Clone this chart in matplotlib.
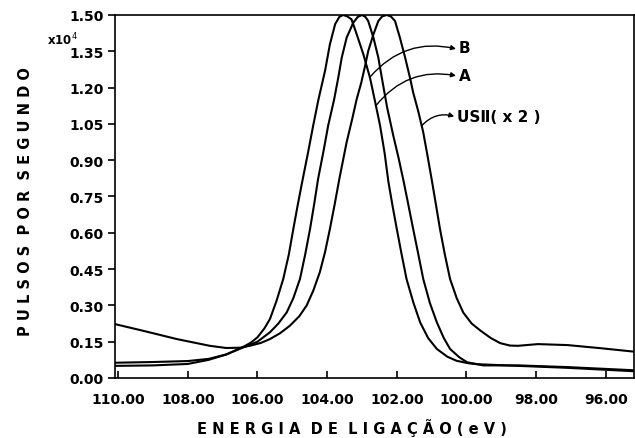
import matplotlib
matplotlib.use("Agg")
import matplotlib.pyplot as plt

# energia de ligacao (eV) e pulsos por segundo (x10^4)
ev_b = [110.1, 109.0, 108.0, 107.4, 106.9, 106.43, 106.2, 106.0, 105.8, 105.64, 105.45,
        105.26, 105.1, 104.97, 104.85, 104.73, 104.55, 104.40, 104.25, 104.06, 103.92,
        103.77, 103.65, 103.54, 103.42, 103.30, 103.15, 102.96, 102.77, 102.62, 102.48,
        102.35, 102.24, 102.12, 102.0, 101.86, 101.72, 101.52, 101.33, 101.1, 100.85,
        100.55, 100.28, 99.95, 99.70, 98.5, 97.1, 95.2]
cps_b = [0.050, 0.052, 0.058, 0.075, 0.097, 0.127, 0.145, 0.168, 0.205, 0.244, 0.32,
         0.409, 0.51, 0.616, 0.71, 0.80, 0.93, 1.043, 1.15, 1.269, 1.379,
         1.462, 1.492, 1.50, 1.494, 1.482, 1.42, 1.338, 1.241, 1.14, 1.043,
         0.93, 0.81, 0.71, 0.616, 0.51, 0.409, 0.31, 0.23, 0.165, 0.12,
         0.088, 0.071, 0.061, 0.057, 0.050, 0.042, 0.028]

ev_a = [110.1, 109.0, 108.0, 107.4, 106.9, 106.43, 106.0, 105.64, 105.4, 105.16, 104.97,
        104.78, 104.63, 104.49, 104.37, 104.26, 104.1, 103.97, 103.80, 103.68, 103.58,
        103.44, 103.25, 103.12, 103.0, 102.90, 102.82, 102.67, 102.53, 102.43, 102.28,
        102.10, 101.95, 101.80, 101.66, 101.53, 101.38, 101.24, 101.05, 100.85, 100.65,
        100.47, 100.2, 99.98, 99.51, 98.5, 97.1, 95.2]
cps_a = [0.063, 0.066, 0.070, 0.079, 0.097, 0.125, 0.150, 0.189, 0.225, 0.271, 0.33,
         0.409, 0.51, 0.616, 0.72, 0.822, 0.94, 1.043, 1.15, 1.241, 1.324,
         1.406, 1.468, 1.492, 1.50, 1.492, 1.475, 1.406, 1.324, 1.241, 1.12,
         1.001, 0.91, 0.81, 0.71, 0.616, 0.51, 0.409, 0.31, 0.23, 0.165,
         0.12, 0.085, 0.065, 0.052, 0.052, 0.045, 0.032]

ev_us = [110.1, 109.28, 108.32, 107.37, 106.9, 106.5, 106.22, 105.9, 105.64, 105.35,
         105.07, 104.8, 104.59, 104.4, 104.21, 104.06, 103.92, 103.78, 103.65, 103.44,
         103.28, 103.15, 103.02, 102.91, 102.82, 102.67, 102.53, 102.42, 102.29, 102.17,
         102.05, 101.91, 101.76, 101.62, 101.53, 101.38, 101.24, 101.12, 101.0, 100.88,
         100.76, 100.62, 100.47, 100.28, 100.09, 99.85, 99.6, 99.3, 99.03, 98.75,
         98.52, 97.95, 97.1, 96.14, 95.2]
cps_us = [0.223, 0.195, 0.161, 0.133, 0.124, 0.125, 0.133, 0.145, 0.161, 0.185,
          0.216, 0.255, 0.299, 0.36, 0.437, 0.52, 0.616, 0.72, 0.822, 0.974,
          1.07, 1.153, 1.22, 1.29, 1.351, 1.42, 1.475, 1.494, 1.50, 1.494,
          1.475, 1.406, 1.324, 1.24, 1.18, 1.10, 1.015, 0.92, 0.822, 0.72,
          0.616, 0.51, 0.409, 0.33, 0.27, 0.225, 0.196, 0.165, 0.144, 0.134,
          0.133, 0.14, 0.136, 0.123, 0.109]

xticks = [110, 108, 106, 104, 102, 100, 98, 96]
yticks = [0.00, 0.15, 0.30, 0.45, 0.60, 0.75, 0.90, 1.05, 1.20, 1.35, 1.50]

fig = plt.figure(figsize=(6.35, 4.39), dpi=100)
ax = fig.add_axes([0.1811, 0.1367, 0.8173, 0.8269])

for ev, cps in [(ev_b, cps_b), (ev_a, cps_a), (ev_us, cps_us)]:
    ax.plot(ev, cps, color='black', lw=1.5)

ax.set_xlim(110.09, 95.19)
ax.set_ylim(0, 1.5)
ax.set_xticks(xticks)
ax.set_xticklabels(['%.2f' % t for t in xticks])
ax.set_yticks(yticks)
ax.set_yticklabels(['%.2f' % t for t in yticks])
ax.tick_params(axis='x', direction='in', length=5, width=1.2, pad=10, labelsize=10)
ax.tick_params(axis='y', direction='out', length=5, width=1.2, pad=3, labelsize=10)
for lbl in ax.get_xticklabels() + ax.get_yticklabels():
    lbl.set_fontweight('bold')
for s in ax.spines.values():
    s.set_linewidth(1.2)

ax.text(-0.131, 0.935, 'x10$^4$', transform=ax.transAxes, fontsize=8.5,
        fontweight='bold', ha='left', va='center')

ax.set_ylabel('P U L S O S  P O R  S E G U N D O', fontsize=10.5, fontweight='bold')
ax.yaxis.set_label_coords(-0.173, 0.49)
ax.yaxis.label.set_va('center')
ax.set_xlabel('E N E R G I A  D E  L I G A Ç Ã O ( e V )', fontsize=10.5,
              fontweight='bold')
ax.xaxis.set_label_coords(0.456, -0.135)
ax.xaxis.label.set_va('center')

# setas das legendas
arrows = [((102.76, 1.245), (100.3, 1.36)),
          ((102.6, 1.125), (100.3, 1.249)),
          ((101.28, 1.043), (100.35, 1.081))]
for start, end in arrows:
    ax.annotate('', xy=end, xytext=start,
                arrowprops=dict(arrowstyle='-|>', connectionstyle='arc3,rad=-0.3',
                                lw=1.0, color='black', mutation_scale=7,
                                shrinkA=0, shrinkB=0))
ax.text(100.22, 1.365, 'B', fontsize=11, fontweight='bold', ha='left', va='center')
ax.text(100.22, 1.25, 'A', fontsize=11, fontweight='bold', ha='left', va='center')
ax.text(100.28, 1.08, 'USⅡ( x 2 )', fontsize=11, fontweight='bold', ha='left', va='center')

fig.savefig('out.png', dpi=100)
